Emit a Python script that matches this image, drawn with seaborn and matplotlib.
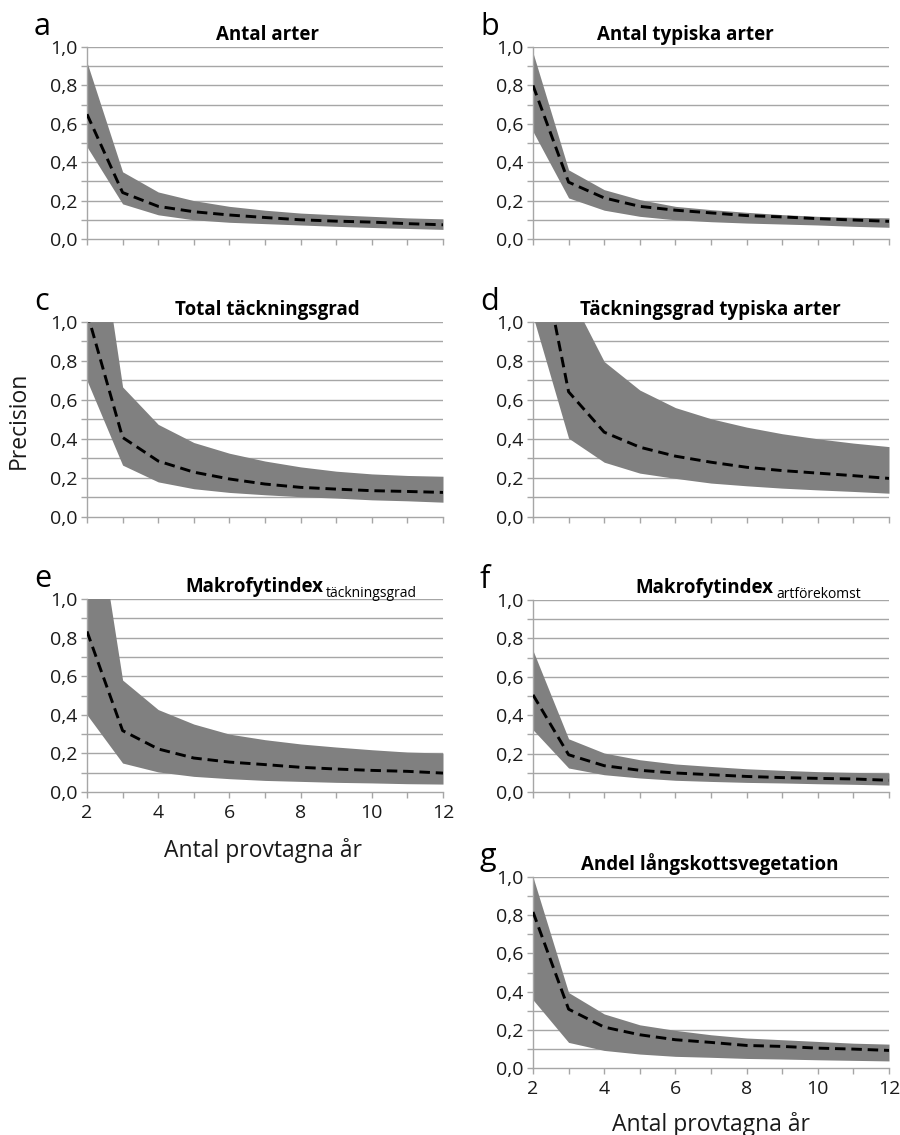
import numpy as np
import pandas as pd
import matplotlib
matplotlib.use('Agg')
import matplotlib.pyplot as plt
import seaborn as sns

# x axis: number of sampled years
years = [2, 3, 4, 5, 6, 7, 8, 9, 10, 11, 12]

# a - Antal arter
a_upper = [0.92, 0.35, 0.245, 0.20, 0.17, 0.15, 0.135, 0.126, 0.118, 0.11, 0.105]
a_median = [0.65, 0.242, 0.17, 0.142, 0.125, 0.112, 0.10, 0.093, 0.088, 0.08, 0.074]
a_lower = [0.48, 0.183, 0.126, 0.10, 0.087, 0.08, 0.073, 0.066, 0.06, 0.055, 0.05]

# b - Antal typiska arter
b_upper = [0.97, 0.36, 0.257, 0.205, 0.17, 0.153, 0.139, 0.127, 0.118, 0.113, 0.11]
b_median = [0.80, 0.296, 0.214, 0.17, 0.15, 0.136, 0.122, 0.115, 0.106, 0.099, 0.092]
b_lower = [0.56, 0.214, 0.15, 0.118, 0.10, 0.09, 0.083, 0.078, 0.073, 0.066, 0.061]

# c - Total täckningsgrad
c_upper = [1.90, 0.667, 0.475, 0.382, 0.327, 0.287, 0.257, 0.235, 0.221, 0.213, 0.209]
c_median = [1.05, 0.408, 0.287, 0.23, 0.195, 0.169, 0.152, 0.143, 0.135, 0.131, 0.126]
c_lower = [0.70, 0.266, 0.18, 0.145, 0.126, 0.114, 0.104, 0.097, 0.088, 0.083, 0.076]

# d - Täckningsgrad typiska arter
d_upper = [2.50, 1.153, 0.797, 0.651, 0.561, 0.504, 0.461, 0.427, 0.401, 0.379, 0.361]
d_median = [1.56, 0.642, 0.435, 0.358, 0.312, 0.281, 0.255, 0.238, 0.225, 0.212, 0.198]
d_lower = [1.03, 0.404, 0.281, 0.225, 0.198, 0.174, 0.16, 0.148, 0.139, 0.131, 0.122]

# e - Makrofytindex täckningsgrad
e_upper = [1.76, 0.58, 0.427, 0.352, 0.30, 0.271, 0.249, 0.233, 0.219, 0.207, 0.202]
e_median = [0.832, 0.318, 0.223, 0.176, 0.155, 0.142, 0.128, 0.119, 0.112, 0.107, 0.098]
e_lower = [0.40, 0.15, 0.104, 0.081, 0.069, 0.06, 0.055, 0.05, 0.047, 0.043, 0.041]

# f - Makrofytindex artförekomst
f_upper = [0.737, 0.277, 0.203, 0.168, 0.146, 0.133, 0.121, 0.113, 0.106, 0.102, 0.099]
f_median = [0.506, 0.194, 0.137, 0.113, 0.099, 0.09, 0.081, 0.075, 0.071, 0.068, 0.061]
f_lower = [0.324, 0.125, 0.09, 0.073, 0.061, 0.055, 0.05, 0.047, 0.043, 0.04, 0.036]

# g - Andel långskottsvegetation
g_upper = [1.0, 0.395, 0.283, 0.226, 0.197, 0.174, 0.157, 0.148, 0.139, 0.13, 0.125]
g_median = [0.817, 0.308, 0.214, 0.174, 0.148, 0.134, 0.118, 0.113, 0.104, 0.099, 0.092]
g_lower = [0.357, 0.134, 0.092, 0.073, 0.061, 0.056, 0.05, 0.047, 0.043, 0.04, 0.037]

y_ticks = [0.0, 0.2, 0.4, 0.6, 0.8, 1.0]
y_ticklabels = ['0,0', '0,2', '0,4', '0,6', '0,8', '1,0']
x_ticks = [2, 4, 6, 8, 10, 12]
x_ticklabels = ['2', '4', '6', '8', '10', '12']

sns.set_theme(style='white')
plt.rcParams['font.family'] = ['Open Sans', 'DejaVu Sans']
plt.rcParams['lines.dashed_pattern'] = [3.6, 2.0]

W, H = 900, 1135
fig = plt.figure(figsize=(W / 100, H / 100), dpi=100)

GRID = '#a6a6a6'
TXT = '#1a1a1a'

# (letter, title, subscript, lower, median, upper, left_px, top_px, bottom_px, title_x, show_xlabels)
panels = [
    ('a', 'Antal arter', None, a_lower, a_median, a_upper, 87, 47, 239, 0.506, False),
    ('b', 'Antal typiska arter', None, b_lower, b_median, b_upper, 533, 47, 239, 0.427, False),
    ('c', 'Total täckningsgrad', None, c_lower, c_median, c_upper, 87, 322, 517, 0.506, False),
    ('d', 'Täckningsgrad typiska arter', None, d_lower, d_median, d_upper, 533, 322, 517, 0.497, False),
    ('e', 'Makrofytindex', 'täckningsgrad', e_lower, e_median, e_upper, 87, 599, 792, 0.275, True),
    ('f', 'Makrofytindex', 'artförekomst', f_lower, f_median, f_upper, 533, 600, 792, 0.287, False),
    ('g', 'Andel långskottsvegetation', None, g_lower, g_median, g_upper, 533, 877, 1068, 0.497, True),
]

for letter, title, sub, lower, median, upper, left, top, bottom, tx, show_x in panels:
    ax = fig.add_axes([left / W, 1 - bottom / H, 356 / W, (bottom - top) / H])
    df = pd.DataFrame({'år': years, 'lower': lower, 'median': median, 'upper': upper})

    ax.fill_between(df['år'], df['lower'], df['upper'], color='#808080', linewidth=0, zorder=2)
    sns.lineplot(data=df, x='år', y='median', ax=ax, color='black', linestyle='--',
                 linewidth=2.1, zorder=3)

    ax.set_xlim(2, 12)
    ax.set_ylim(0, 1.0)
    ax.set_yticks(y_ticks)
    ax.set_yticklabels(y_ticklabels)
    ax.set_yticks(np.arange(0.1, 1.0, 0.2), minor=True)
    ax.set_xticks(x_ticks)
    ax.set_xticks([3, 5, 7, 9, 11], minor=True)
    if show_x:
        ax.set_xticklabels(x_ticklabels)
    else:
        ax.set_xticklabels([])
    ax.set_xlabel('')
    ax.set_ylabel('')

    for yv in np.arange(0.1, 1.01, 0.1):
        ax.axhline(yv, color=GRID, linewidth=1.0, zorder=1)

    for s in ['top', 'right']:
        ax.spines[s].set_visible(False)
    for s in ['left', 'bottom']:
        ax.spines[s].set_color(GRID)
        ax.spines[s].set_linewidth(1.0)

    ax.tick_params(axis='both', which='both', direction='out', color=GRID,
                   width=1.0, length=4, labelsize=14, labelcolor=TXT,
                   left=True, bottom=True)
    ax.tick_params(axis='y', which='both', pad=3)
    ax.tick_params(axis='x', which='both', pad=5)

    # title (with optional subscript)
    ybase = 1 + 7 / (bottom - top)
    if sub is None:
        ax.text(tx, ybase, title, transform=ax.transAxes, ha='center', va='baseline',
                fontsize=13.5, fontweight='bold', color='black')
    else:
        t = ax.text(tx, ybase, title, transform=ax.transAxes, ha='left', va='baseline',
                    fontsize=13.5, fontweight='bold', color='black')
        ax.annotate(sub, xy=(1, 0), xycoords=t, xytext=(2, 0), textcoords='offset points',
                    ha='left', va='baseline', fontsize=10, color='black')

    # panel letter
    fig.text((left - 53) / W, 1 - (top - 12) / H, letter, ha='left', va='baseline',
             fontsize=22, color='black')

fig.text(19 / W, 1 - 420 / H, 'Precision', rotation=90, ha='center', va='center',
         fontsize=16.5, color=TXT)
fig.text(263 / W, 1 - 857 / H, 'Antal provtagna år', ha='center', va='baseline',
         fontsize=16.5, color=TXT)
fig.text(711 / W, 1 - 1131 / H, 'Antal provtagna år', ha='center', va='baseline',
         fontsize=16.5, color=TXT)

fig.savefig('out.png', dpi=100)
